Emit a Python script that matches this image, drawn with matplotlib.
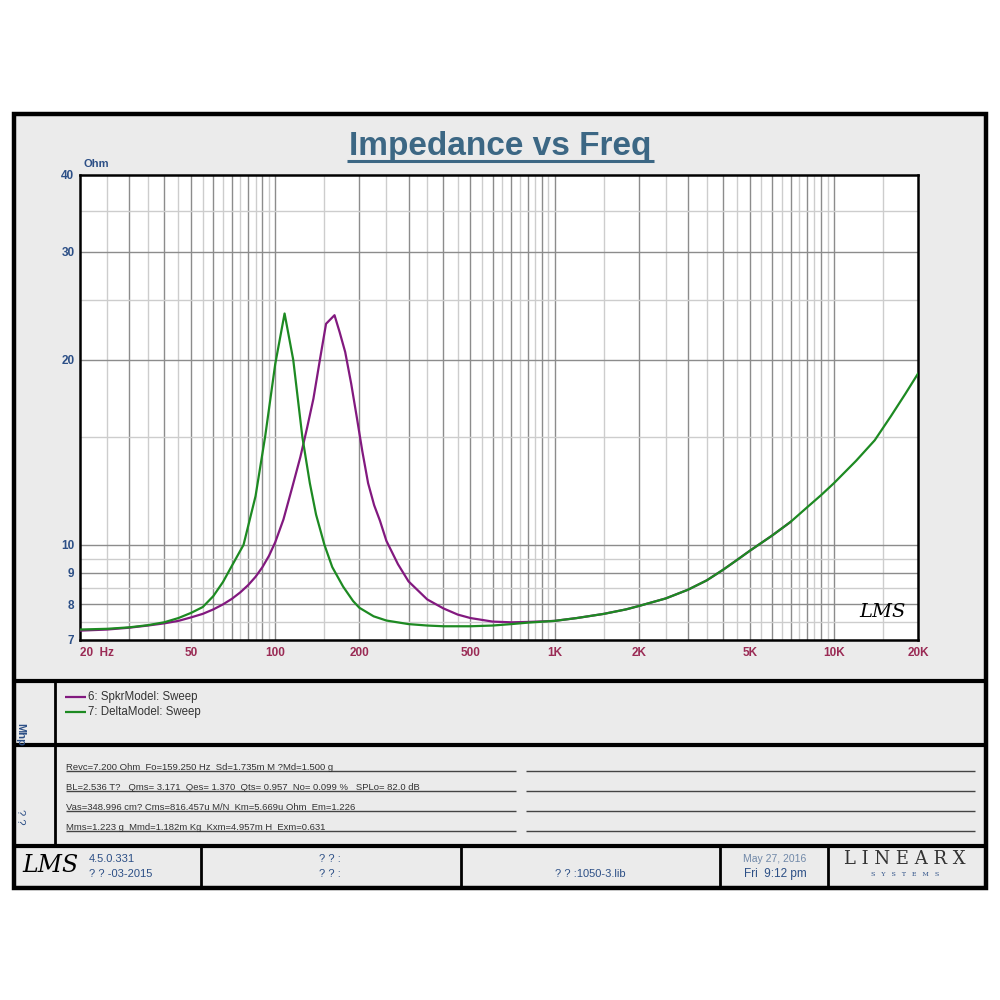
import numpy as np
import matplotlib
matplotlib.use("Agg")
import matplotlib.pyplot as plt
from matplotlib.lines import Line2D
from matplotlib.patches import Rectangle

plt.rcParams['font.family'] = ['Liberation Sans', 'DejaVu Sans']

# ---- data ----
spkr_freq = [20, 25, 30, 35, 40, 45, 50, 55, 60, 65, 70, 75, 80, 85, 90, 95, 100,
             107, 115, 123, 130, 137, 145, 152, 163, 170, 178, 187, 196, 205, 215,
             226, 237, 250, 275, 300, 350, 400, 450, 500, 600, 700, 800, 1000,
             1200, 1500, 1800, 2000, 2500, 3000, 3500, 4000, 4500, 5000, 6000, 7000]
spkr_ohm = [7.25, 7.28, 7.33, 7.39, 7.45, 7.52, 7.62, 7.72, 7.85, 8.0, 8.17, 8.37, 8.6,
            8.87, 9.2, 9.6, 10.1, 11.0, 12.4, 13.9, 15.5, 17.3, 20.2, 22.9, 23.65,
            22.2, 20.6, 18.3, 16.1, 14.2, 12.6, 11.6, 10.95, 10.15, 9.3, 8.72, 8.15,
            7.88, 7.7, 7.6, 7.5, 7.48, 7.49, 7.52, 7.6, 7.72, 7.85, 7.95, 8.18, 8.45,
            8.75, 9.1, 9.45, 9.78, 10.35, 10.9]

delta_freq = [20, 25, 30, 35, 40, 45, 50, 55, 60, 65, 70, 77, 85, 92, 100, 108,
              116, 125, 133, 140, 150, 160, 175, 190, 200, 225, 250, 300, 350, 400,
              500, 600, 700, 800, 1000, 1200, 1500, 1800, 2000, 2500, 3000, 3500,
              4000, 4500, 5000, 6000, 7000, 8000, 9000, 10000, 12000, 14000, 16000,
              18000, 20000]
delta_ohm = [7.28, 7.30, 7.34, 7.40, 7.48, 7.60, 7.75, 7.92, 8.25, 8.7, 9.25, 10.0,
             12.0, 15.0, 19.7, 23.8, 20.0, 15.0, 12.6, 11.2, 10.0, 9.2, 8.55, 8.1,
             7.9, 7.65, 7.53, 7.43, 7.39, 7.37, 7.37, 7.39, 7.43, 7.47, 7.52, 7.6,
             7.72, 7.85, 7.95, 8.18, 8.45, 8.75, 9.1, 9.45, 9.78, 10.35, 10.9, 11.5,
             12.05, 12.6, 13.7, 14.8, 16.2, 17.6, 19.0]

x_ticks = [20, 50, 100, 200, 500, 1000, 2000, 5000, 10000, 20000]
x_labels = ['20  Hz', '50', '100', '200', '500', '1K', '2K', '5K', '10K', '20K']
y_ticks = [7, 8, 9, 10, 20, 30, 40]
y_light = [7.5, 8.5, 9.5, 15, 25, 35]

legend_names = ['6: SpkrModel: Sweep', '7: DeltaModel: Sweep']
param_lines = [
    'Revc=7.200 Ohm  Fo=159.250 Hz  Sd=1.735m M ?Md=1.500 g',
    'BL=2.536 T?   Qms= 3.171  Qes= 1.370  Qts= 0.957  No= 0.099 %   SPLo= 82.0 dB',
    'Vas=348.996 cm? Cms=816.457u M/N  Km=5.669u Ohm  Em=1.226',
    'Mms=1.223 g  Mmd=1.182m Kg  Kxm=4.957m H  Exm=0.631',
]

PURPLE = '#82197f'
GREEN = '#1d8a22'
BLUE = '#2c4f86'
MAROON = '#9a2b55'
PANEL = '#ebebeb'

fig = plt.figure(figsize=(10, 10), dpi=100)
fig.patch.set_facecolor('white')


def fx(x):
    return x / 1000.0


def fy(y):
    return 1 - y / 1000.0


def hline(x0, x1, y, lw=3.0, color='black'):
    fig.add_artist(Line2D([fx(x0), fx(x1)], [fy(y), fy(y)], lw=lw, color=color,
                          transform=fig.transFigure, solid_capstyle='butt'))


def vline(x, y0, y1, lw=3.0, color='black'):
    fig.add_artist(Line2D([fx(x), fx(x)], [fy(y0), fy(y1)], lw=lw, color=color,
                          transform=fig.transFigure, solid_capstyle='butt'))


def txt(x, y, s, **kw):
    fig.text(fx(x), fy(y), s, **kw)


# outer panel
fig.add_artist(Rectangle((fx(14), fy(888)), fx(972), 774 / 1000.0, facecolor=PANEL,
                         edgecolor='black', lw=3.2, transform=fig.transFigure, zorder=0))

# ---- chart ----
ax = fig.add_axes([fx(80), fy(640), fx(838), 465 / 1000.0])
ax.set_facecolor('white')
ax.set_xscale('log')
ax.set_yscale('log')
ax.set_xlim(20, 20000)
ax.set_ylim(7, 40)

for dec in [10, 100, 1000, 10000]:
    for m in range(1, 10):
        f = m * dec
        if 20 < f < 20000:
            ax.axvline(f, color='#8c8c8c', lw=1.0, zorder=1)
        fl = (m + 0.5) * dec
        if 20 < fl < 20000:
            ax.axvline(fl, color='#cdcdcd', lw=1.0, zorder=1)
for v in y_ticks[1:-1]:
    ax.axhline(v, color='#8c8c8c', lw=1.0, zorder=1)
for v in y_light:
    ax.axhline(v, color='#cdcdcd', lw=1.0, zorder=1)

ax.plot(spkr_freq, spkr_ohm, color=PURPLE, lw=1.6, zorder=3)
ax.plot(delta_freq, delta_ohm, color=GREEN, lw=1.6, zorder=4)

ax.set_xticks(x_ticks)
ax.set_xticklabels(x_labels)
ax.set_xticks([], minor=True)
ax.set_yticks(y_ticks)
ax.set_yticklabels([str(v) for v in y_ticks])
ax.set_yticks([], minor=True)
ax.tick_params(axis='x', length=0, pad=5, labelsize=8.5, labelcolor=MAROON)
ax.tick_params(axis='y', length=0, pad=4, labelsize=8.5, labelcolor=BLUE)
for lab in ax.get_xticklabels() + ax.get_yticklabels():
    lab.set_fontweight('bold')
ax.get_xticklabels()[0].set_horizontalalignment('left')
ax.get_xticklabels()[0].set_x(18.5)
for s in ax.spines.values():
    s.set_linewidth(1.8)
    s.set_color('black')

ax.text(0.985, 0.04, 'LMS', transform=ax.transAxes, ha='right', va='bottom',
        fontsize=14, style='italic', family='DejaVu Serif', color='black')

txt(500, 146, 'Impedance vs Freq', ha='center', va='center', fontsize=24,
    fontweight='bold', color='#3c6784')
hline(347, 654, 161, lw=2.2, color='#3c6784')
txt(84, 164, 'Ohm', ha='left', va='center', fontsize=8, fontweight='bold', color=BLUE)

# ---- lower panels ----
hline(14, 986, 681)
hline(14, 986, 745)
hline(14, 986, 846)
vline(55, 681, 846, lw=2.0)

txt(20, 734, 'Mhp', rotation=270, ha='center', va='center', fontsize=8,
    fontweight='bold', color=BLUE)
txt(20, 817, '? ?', rotation=270, ha='center', va='center', fontsize=8, color=BLUE)

for i, (name, col) in enumerate(zip(legend_names, [PURPLE, GREEN])):
    yy = 697 + i * 15
    hline(65, 86, yy, lw=1.6, color=col)
    txt(88, yy, name, ha='left', va='center', fontsize=8.3, color='#333333')

for i, line in enumerate(param_lines):
    yy = 767 + i * 20
    txt(66, yy, line, ha='left', va='center', fontsize=6.8, color='#333333',
        family=['Liberation Sans Narrow', 'Liberation Sans'])
    hline(66, 516, yy + 4, lw=1.0, color='#444444')
    hline(526, 975, yy + 4, lw=1.0, color='#444444')

# ---- footer ----
for x in [201, 461, 720, 828]:
    vline(x, 846, 888, lw=2.0)
txt(50, 866, 'LMS', ha='center', va='center', fontsize=17, style='italic',
    family='DejaVu Serif', color='black')
txt(89, 859, '4.5.0.331', ha='left', va='center', fontsize=8, color=BLUE)
txt(89, 874, '? ? -03-2015', ha='left', va='center', fontsize=8, color=BLUE)
txt(330, 859, '? ? :', ha='center', va='center', fontsize=8, color=BLUE)
txt(330, 874, '? ? :', ha='center', va='center', fontsize=8, color=BLUE)
txt(590, 874, '? ? :1050-3.lib', ha='center', va='center', fontsize=8, color=BLUE)
txt(775, 859, 'May 27, 2016', ha='center', va='center', fontsize=7.5, color='#7088a8')
txt(775, 874, 'Fri  9:12 pm', ha='center', va='center', fontsize=8.5, color=BLUE)
txt(905, 859, 'L I N E A R X', ha='center', va='center', fontsize=13,
    family='DejaVu Serif', color='#333333')
txt(905, 875, 'S   Y   S   T   E   M   S', ha='center', va='center', fontsize=4.5,
    family='DejaVu Serif', color=BLUE)

fig.savefig('out.png', dpi=100, facecolor='white')
